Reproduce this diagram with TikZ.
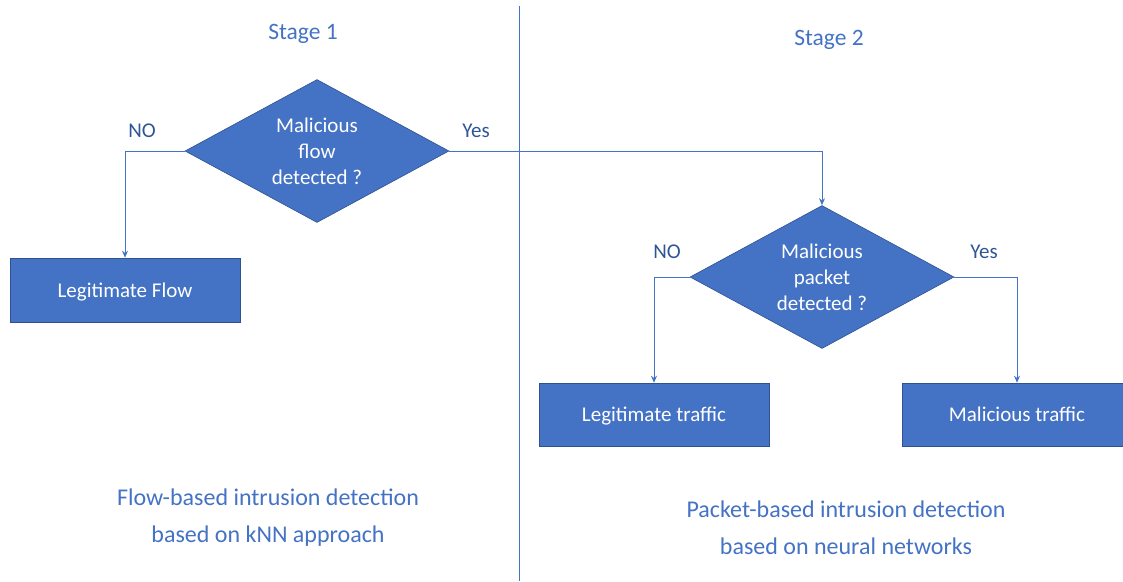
\documentclass[tikz,border=0pt]{standalone}
\usepackage{fontspec}
\setmainfont{Carlito}
\usetikzlibrary{shapes.geometric,arrows.meta,positioning}
\definecolor{ppblue}{HTML}{4472C4}
\definecolor{ppdark}{HTML}{2F528F}
\definecolor{pplabel}{HTML}{2F5597}
\tikzset{
  decision/.style={diamond, aspect=1.85, fill=ppblue, draw=ppdark, line width=0.6pt,
    inner sep=0pt, minimum width=264pt, minimum height=143pt,
    text=white, align=center, font=\fontsize{21}{26}\selectfont},
  outcome/.style={rectangle, fill=ppblue, draw=ppdark, line width=0.6pt,
    minimum width=230pt, minimum height=63pt, text height=15pt, text depth=1pt,
    text=white, font=\fontsize{21}{26}\selectfont},
  branch/.style={text=pplabel, font=\fontsize{21}{26}\selectfont},
  stagelab/.style={text=ppblue, font=\fontsize{23.5}{28}\selectfont},
  caption/.style={text=ppblue, align=center, font=\fontsize{24}{37}\selectfont},
  flow/.style={draw=ppblue, line width=0.9pt, -{Stealth[length=7pt,width=6pt]}}
}
\begin{document}
\begin{tikzpicture}[x=1pt,y=-1pt]
      \useasboundingbox (0,0) rectangle (1123,581);

      % STAGE 1
      \node[stagelab] (s1) at (303,34) {Stage 1};
      \node[decision] (d1) at (317,151) {Malicious\\flow\\detected ?};
      \node[outcome, minimum height=64pt] (b1) at (125,290) {Legitimate Flow};
      \node[branch] (no1)  at (142,131) {NO};
      \node[branch] (yes1) at (476,131) {Yes};

      % STAGE 2
      \node[stagelab] (s2) at (829,40) {Stage 2};
      \node[decision] (d2) at (822,277) {Malicious\\packet\\detected ?};
      \node[outcome] (b2) at (654,414.5) {Legitimate traffic};
      \node[outcome] (b3) at (1017,414.5) {Malicious traffic};
      \node[branch] (no2)  at (667,252) {NO};
      \node[branch] (yes2) at (984,252) {Yes};

      % DIVIDER
      \coordinate (top) at (519.5,6);
      \coordinate (bot) at (519.5,581);
      \draw[ppblue, line width=0.9pt] (top) -- (bot);

      % ARROWS
      \draw[flow] (d1.west) -| (b1.north);
      \draw[flow] (d1.east) -| (d2.north);
      \draw[flow] (d2.west) -| (b2.north);
      \draw[flow] (d2.east) -| (b3.north);

      % NOTES
      \node[caption] (c1) at (268,517.5) {Flow-based intrusion detection\\based on kNN approach};
      \node[caption] (c2) at (846,528) {Packet-based intrusion detection\\based on neural networks};

    \end{tikzpicture}
\end{document}
